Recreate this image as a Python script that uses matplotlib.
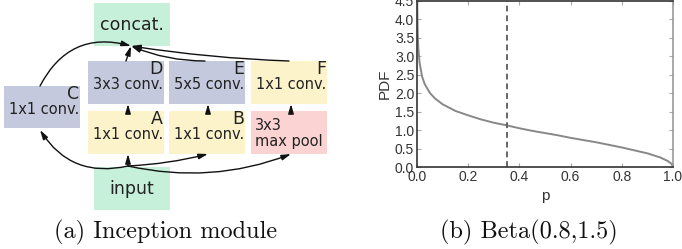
import numpy as np
from matplotlib import pyplot as plt

# beta(0.8, 1.5) pdf
p_vals = [0.001, 0.002, 0.003, 0.005, 0.01, 0.02, 0.03, 0.05, 0.07, 0.10,
          0.15, 0.20, 0.25, 0.30, 0.35, 0.40, 0.45, 0.50, 0.55, 0.60,
          0.65, 0.70, 0.75, 0.80, 0.85, 0.90, 0.95, 0.98, 0.99, 0.995, 1.0]
pdf_vals = [4.50, 3.92, 3.61, 3.25, 2.83, 2.45, 2.25, 2.01, 1.86, 1.70,
            1.52, 1.40, 1.29, 1.20, 1.13, 1.05, 0.98, 0.92, 0.86, 0.79,
            0.73, 0.67, 0.60, 0.53, 0.45, 0.37, 0.26, 0.16, 0.11, 0.08, 0.0]
p_mean = 0.35

# inception module boxes: name -> (label, corner letter)
box_labels = {"concat": ("concat.", ""), "input": ("input", ""),
              "C": ("1x1 conv.", "C"), "D": ("3x3 conv.", "D"),
              "E": ("5x5 conv.", "E"), "F": ("1x1 conv.", "F"),
              "A": ("1x1 conv.", "A"), "B": ("1x1 conv.", "B"),
              "pool": ("3x3\nmax pool", "")}

# layout in pixels (x0, y0, x1, y1), y down
box_pos = {"concat": (94, 3, 170, 46), "input": (94, 167, 170, 210),
           "C": (4, 86, 80, 128), "D": (88, 61, 164, 104),
           "E": (169, 61, 245, 104), "F": (251, 61, 327, 104),
           "A": (88, 111, 164, 154), "B": (169, 111, 245, 154),
           "pool": (251, 111, 327, 154)}
green, blue, yellow, pink = "#c6f0da", "#c4c9dd", "#fcf3cb", "#fcd3d3"
box_col = {"concat": green, "input": green, "C": blue, "D": blue, "E": blue,
           "F": yellow, "A": yellow, "B": yellow, "pool": pink}

fig = plt.figure(figsize=(6.82, 2.49), dpi=100)

# ---- left: diagram ----
ax0 = fig.add_axes([0, 0, 1, 1])
ax0.set_xlim(0, 682)
ax0.set_ylim(249, 0)
ax0.axis("off")

ink = "#222222"
for key, (x0, y0, x1, y1) in box_pos.items():
    ax0.add_patch(plt.Rectangle((x0, y0), x1 - x0, y1 - y0,
                                color=box_col[key], lw=0, zorder=1))
    label, letter = box_labels[key]
    if key in ("concat", "input"):
        ax0.text((x0 + x1) / 2, (y0 + y1) / 2, label, ha="center",
                 va="center", fontsize=12.5, color=ink)
    elif key == "pool":
        ax0.text(x0 + 4, (y0 + y1) / 2 + 1, label, ha="left", va="center",
                 fontsize=10.5, color=ink, linespacing=1.15)
    else:
        ax0.text(x0 + 5, y0 + 23, label, ha="left", va="center",
                 fontsize=10.5, color=ink)
        ax0.text(x1 - 1, y0 - 1, letter, ha="right", va="top",
                 fontsize=12.5, color=ink)

arrow = "-|>,head_length=0.55,head_width=0.16"


def connect(start, end, rad):
    ax0.annotate("", xy=end, xytext=start,
                 arrowprops=dict(arrowstyle=arrow, color="#111111", lw=1.0,
                                 shrinkA=0, shrinkB=0,
                                 connectionstyle=f"arc3,rad={rad}"),
                 zorder=3)


src = (128, 166)
connect(src, (40, 130), -0.35)
connect(src, (128, 154), 0)
connect(src, (208, 154), 0.05)
connect(src, (291, 154), 0.15)
connect((128, 111), (128, 104), 0)
connect((208, 111), (208, 104), 0)
connect((291, 111), (291, 104), 0)
top = (131, 46)
connect((40, 86), top, -0.4)
connect((126, 61), top, 0)
connect((205, 61), top, -0.1)
connect((289, 61), top, -0.03)

ax0.text(166, 232, "(a) Inception module", ha="center", va="center",
         fontsize=17.5, family="cmr10", color="#111111")
ax0.text(529, 232, "(b) Beta(0.8,1.5)", ha="center", va="center",
         fontsize=17.5, family="cmr10", color="#111111")

# ---- right: beta pdf ----
ax = fig.add_axes([417 / 682, (249 - 167) / 249, (673 - 417) / 682,
                   (167 - 1) / 249])
ax.plot(p_vals, pdf_vals, color="#888888", lw=1.4)
ax.axvline(p_mean, color="#666666", lw=1.4, ls=(0, (3, 2)))
ax.set_xlim(0, 1)
ax.set_ylim(0, 4.5)
ax.set_xticks(np.arange(0, 1.01, 0.2))
ax.set_yticks(np.arange(0, 4.51, 0.5))
ax.tick_params(labelsize=10, colors="#333333", length=3, direction="in",
               top=True, right=True, pad=2)
ax.tick_params(color="#aaaaaa")
for side in ax.spines:
    ax.spines[side].set_color("#333333")
    ax.spines[side].set_linewidth(1.2)
ax.spines["right"].set_color("#999999")
ax.set_xlabel("p", fontsize=11, color="#333333", family="Liberation Sans",
              labelpad=4)
ax.set_ylabel("PDF", fontsize=11, color="#333333", family="Liberation Sans",
              labelpad=2)
for lab in ax.get_xticklabels() + ax.get_yticklabels():
    lab.set_family("Liberation Sans")

fig.savefig("out.png", dpi=100)
